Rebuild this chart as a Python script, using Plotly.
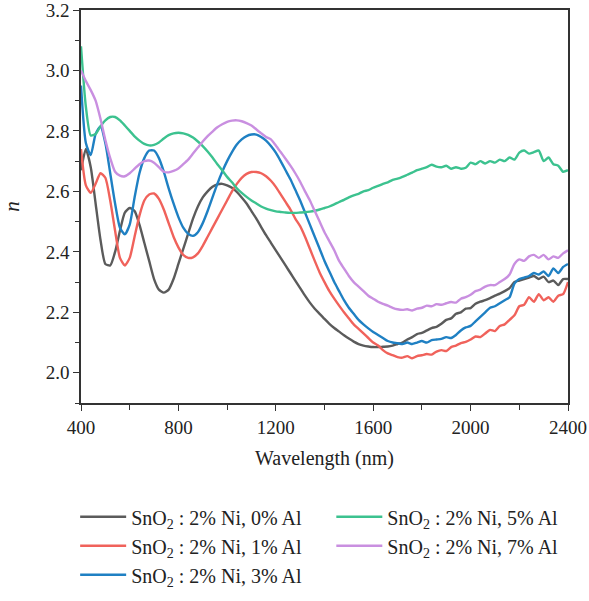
import plotly.graph_objects as go

wavelength = list(range(400, 2401, 20))

n_0al = [
    2.67, 2.74, 2.68, 2.56, 2.44, 2.36, 2.355, 2.40, 2.47, 2.53,
    2.545, 2.535, 2.49, 2.43, 2.37, 2.31, 2.275, 2.265, 2.275, 2.31,
    2.36, 2.41, 2.46, 2.51, 2.55, 2.58, 2.60, 2.615, 2.623, 2.625,
    2.62, 2.612, 2.598, 2.58, 2.56, 2.535, 2.51, 2.482, 2.455, 2.43,
    2.405, 2.38, 2.355, 2.33, 2.305, 2.28, 2.255, 2.232, 2.212, 2.195,
    2.178, 2.162, 2.148, 2.136, 2.124, 2.113, 2.103, 2.095, 2.09, 2.087,
    2.085, 2.085, 2.086, 2.087, 2.09, 2.095, 2.10, 2.11, 2.118, 2.128,
    2.132, 2.14, 2.148, 2.152, 2.162, 2.175, 2.18, 2.195, 2.20, 2.212,
    2.214, 2.228, 2.235, 2.24, 2.247, 2.255, 2.262, 2.27, 2.28, 2.30,
    2.305, 2.31, 2.315, 2.32, 2.31, 2.318, 2.30, 2.305, 2.29, 2.31,
    2.31,
]

n_1al = [
    2.74, 2.62, 2.595, 2.625, 2.66, 2.645, 2.57, 2.47, 2.38, 2.355,
    2.38, 2.45, 2.52, 2.57, 2.59, 2.593, 2.575, 2.54, 2.495, 2.45,
    2.415, 2.39, 2.38, 2.382, 2.395, 2.42, 2.45, 2.48, 2.51, 2.54,
    2.57, 2.60, 2.625, 2.645, 2.658, 2.664, 2.664, 2.66, 2.65, 2.635,
    2.615, 2.59, 2.565, 2.54, 2.51, 2.485, 2.45, 2.41, 2.37, 2.332,
    2.30, 2.27, 2.245, 2.222, 2.20, 2.18, 2.16, 2.145, 2.13, 2.115,
    2.10, 2.09, 2.075, 2.064, 2.058, 2.052, 2.05, 2.055, 2.048, 2.055,
    2.058, 2.062, 2.06, 2.07, 2.075, 2.072, 2.085, 2.09, 2.098, 2.102,
    2.11, 2.12, 2.118, 2.13, 2.142, 2.138, 2.155, 2.16, 2.175, 2.19,
    2.22, 2.225, 2.25, 2.235, 2.26, 2.24, 2.25, 2.235, 2.255, 2.26,
    2.30,
]

n_3al = [
    2.95, 2.76, 2.72, 2.79, 2.815, 2.76, 2.66, 2.56, 2.48, 2.458,
    2.49, 2.58, 2.66, 2.71, 2.735, 2.735, 2.71, 2.665, 2.61, 2.56,
    2.515, 2.48, 2.46, 2.453, 2.465, 2.495, 2.535, 2.58, 2.625, 2.665,
    2.70, 2.73, 2.755, 2.772, 2.783, 2.788, 2.788, 2.78, 2.768, 2.75,
    2.728, 2.70, 2.67, 2.64, 2.605, 2.57, 2.53, 2.49, 2.45, 2.41,
    2.37, 2.335, 2.30, 2.27, 2.24, 2.215, 2.195, 2.175, 2.16, 2.147,
    2.135, 2.125, 2.115, 2.105, 2.10, 2.098, 2.095, 2.10, 2.095, 2.10,
    2.105, 2.10, 2.108, 2.11, 2.112, 2.118, 2.115, 2.125, 2.14, 2.15,
    2.155, 2.17, 2.185, 2.20, 2.215, 2.22, 2.23, 2.24, 2.25, 2.295,
    2.31, 2.315, 2.32, 2.33, 2.325, 2.335, 2.32, 2.345, 2.33, 2.35,
    2.36,
]

n_5al = [
    3.08, 2.88, 2.785, 2.79, 2.815, 2.835, 2.846, 2.846, 2.835, 2.818,
    2.80, 2.782, 2.768, 2.757, 2.752, 2.754, 2.762, 2.775, 2.786, 2.792,
    2.794, 2.792, 2.787, 2.778, 2.765, 2.75, 2.732, 2.712, 2.69, 2.67,
    2.648, 2.63, 2.61, 2.595, 2.582, 2.57, 2.56, 2.55, 2.543, 2.538,
    2.534, 2.532, 2.53, 2.529, 2.529, 2.53, 2.531, 2.533, 2.536, 2.54,
    2.545, 2.55, 2.557, 2.565, 2.572, 2.58, 2.587, 2.592, 2.60, 2.604,
    2.612, 2.618, 2.625, 2.63, 2.638, 2.642, 2.648, 2.655, 2.662, 2.67,
    2.675, 2.68, 2.688, 2.682, 2.68, 2.685, 2.675, 2.68, 2.675, 2.678,
    2.695, 2.69, 2.70, 2.692, 2.70, 2.695, 2.705, 2.70, 2.712, 2.705,
    2.728, 2.735, 2.725, 2.73, 2.735, 2.70, 2.712, 2.69, 2.685, 2.665,
    2.67,
]

n_7al = [
    3.0, 2.965, 2.935, 2.90, 2.84, 2.77, 2.71, 2.665, 2.652, 2.65,
    2.66, 2.675, 2.69, 2.70, 2.702, 2.695, 2.68, 2.665, 2.663, 2.668,
    2.676, 2.69, 2.705, 2.725, 2.745, 2.765, 2.783, 2.798, 2.812, 2.822,
    2.83, 2.834, 2.835, 2.832, 2.826, 2.818, 2.805, 2.792, 2.78, 2.772,
    2.752, 2.73, 2.708, 2.685, 2.66, 2.632, 2.60, 2.57, 2.535, 2.50,
    2.465, 2.435, 2.405, 2.37, 2.345, 2.32, 2.30, 2.285, 2.27, 2.255,
    2.245, 2.235, 2.228, 2.222, 2.215, 2.21, 2.208, 2.21, 2.206, 2.212,
    2.215, 2.222, 2.22, 2.227, 2.225, 2.23, 2.234, 2.232, 2.245, 2.25,
    2.258, 2.27, 2.275, 2.285, 2.29, 2.29, 2.30, 2.31, 2.325, 2.36,
    2.375, 2.37, 2.385, 2.39, 2.38, 2.39, 2.375, 2.385, 2.38, 2.395,
    2.405,
]

series_names = [
    "SnO<sub>2</sub> : 2% Ni, 0% Al",
    "SnO<sub>2</sub> : 2% Ni, 1% Al",
    "SnO<sub>2</sub> : 2% Ni, 3% Al",
    "SnO<sub>2</sub> : 2% Ni, 5% Al",
    "SnO<sub>2</sub> : 2% Ni, 7% Al",
]
series_values = [n_0al, n_1al, n_3al, n_5al, n_7al]
series_colors = ["#5b5b5b", "#f0625b", "#1f80c3", "#3cc28f", "#c98fe0"]
series_legend = ["legend", "legend", "legend", "legend2", "legend2"]

FONT = "Liberation Serif"

fig = go.Figure()
for i, (name, vals, col, lg) in enumerate(zip(series_names, series_values, series_colors, series_legend)):
    fig.add_trace(go.Scatter(
        x=wavelength, y=vals, mode="lines", name=name,
        line=dict(color=col, width=2.4, shape="spline", smoothing=0.6),
        legend=lg, legendgroup=f"g{i}",
    ))

axis_common = dict(
    showline=True, linecolor="#333333", linewidth=1.5, mirror=True,
    ticks="outside", ticklen=6, tickwidth=1.3, tickcolor="#333333",
    showgrid=False, zeroline=False, automargin=False,
    ticklabeloverflow="allow",
    tickfont=dict(family=FONT, size=19, color="#222222"),
)

fig.update_xaxes(
    range=[400, 2400], dtick=400, tick0=400,
    minor=dict(dtick=200, ticks="outside", ticklen=5, tickwidth=1.2, tickcolor="#333333"),
    title=dict(text="Wavelength (nm)", font=dict(family=FONT, size=20, color="#222222"), standoff=14),
    **axis_common,
)
fig.update_yaxes(
    range=[1.9, 3.2], dtick=0.2, tick0=2.0, tickformat=".1f",
    minor=dict(dtick=0.1, ticks="outside", ticklen=4, tickwidth=1.2, tickcolor="#333333"),
    title=dict(text="<i>n</i>", font=dict(family=FONT, size=21, color="#222222"), standoff=26),
    **axis_common,
)

legend_common = dict(
    orientation="v", xanchor="left", yanchor="top",
    font=dict(family=FONT, size=20, color="#222222"),
    bgcolor="rgba(0,0,0,0)", borderwidth=0,
    itemwidth=46, tracegroupgap=0, itemclick=False,
)

fig.update_layout(
    width=589, height=601,
    margin=dict(l=81, r=21, t=10, b=198, autoexpand=False),
    paper_bgcolor="white", plot_bgcolor="white",
    showlegend=True,
    legend=dict(x=-0.012, y=-0.24, **legend_common),
    legend2=dict(x=0.514, y=-0.24, **legend_common),
)

fig.write_html(
    "out.html",
    config={"displayModeBar": False},
    post_script="document.body.style.margin='0';document.body.style.overflow='hidden';",
)
